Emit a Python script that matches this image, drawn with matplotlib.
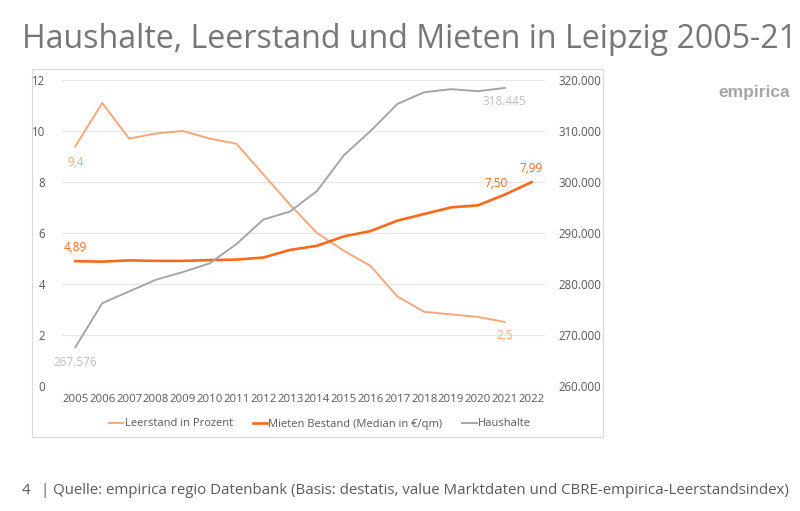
import matplotlib.pyplot as plt
from matplotlib.patches import Rectangle

years = list(range(2005, 2023))
leerstand = [9.4, 11.1, 9.7, 9.9, 10.0, 9.7, 9.5, 8.3, 7.1, 6.0, 5.3, 4.7, 3.5, 2.9, 2.8, 2.7, 2.5]
mieten = [4.89, 4.87, 4.92, 4.90, 4.90, 4.93, 4.95, 5.03, 5.33, 5.49, 5.86, 6.07, 6.48, 6.74, 7.00, 7.08, 7.50, 7.99]
haushalte = [267576, 276200, 278500, 280800, 282300, 284000, 287800, 292600, 294200, 298200,
             305200, 310000, 315300, 317600, 318200, 317800, 318445]

c_leer = '#f4a87a'
c_miet = '#fa6a1a'
c_haus = '#a5a5a5'
txt = '#595959'
font = ['Open Sans', 'DejaVu Sans']

plt.rcParams['font.family'] = font

fig = plt.figure(figsize=(8, 5.11), dpi=100)
W, H = 800, 511

# chart frame
fig.patches.append(Rectangle((32 / W, 1 - 437 / H), (603 - 32) / W, (437 - 69) / H,
                             transform=fig.transFigure, fill=False, ec='#d9d9d9', lw=0.8))

ax = fig.add_axes([62 / W, 1 - 385.7 / H, (545 - 62) / W, (385.7 - 80) / H])
ax2 = ax.twinx()

l1, = ax.plot(years[:len(leerstand)], leerstand, color=c_leer, lw=1.4, label='Leerstand in Prozent')
l2, = ax.plot(years, mieten, color=c_miet, lw=1.9, label='Mieten Bestand (Median in €/qm)')
l3, = ax2.plot(years[:len(haushalte)], haushalte, color=c_haus, lw=1.4, label='Haushalte')

ax.set_xlim(2004.5, 2022.5)
ax.set_ylim(0, 12)
ax2.set_ylim(260000, 320000)
ax.set_xticks(years)
ax.set_xticklabels([str(y) for y in years])
ax.set_yticks(range(0, 13, 2))
ax2.set_yticks(range(260000, 320001, 10000))
ax2.set_yticklabels([f'{v // 1000}.000' for v in range(260000, 320001, 10000)])
ax.grid(axis='y', color='#e6e6e6', lw=0.8)
ax.set_axisbelow(True)
for a in (ax, ax2):
    for s in a.spines.values():
        s.set_visible(False)
    a.tick_params(length=0, labelsize=8.3, colors=txt)
ax.tick_params(axis='x', labelsize=8.2, pad=6)
ax.tick_params(axis='y', pad=12)
ax2.tick_params(axis='y', pad=10)

# data labels
ax.annotate('9,4', (2005, leerstand[0]), xytext=(0, -12), textcoords='offset points',
            ha='center', va='center', color=c_leer, fontsize=8.5)
ax.annotate('2,5', (2021, leerstand[-1]), xytext=(0, -10), textcoords='offset points',
            ha='center', va='center', color=c_leer, fontsize=8.5)
ax.annotate('4,89', (2005, mieten[0]), xytext=(0, 10), textcoords='offset points',
            ha='center', va='center', color=c_miet, fontsize=8.5)
ax.annotate('7,50', (2021, mieten[-2]), xytext=(-6, 8), textcoords='offset points',
            ha='center', va='center', color=c_miet, fontsize=8.5)
ax.annotate('7,99', (2022, mieten[-1]), xytext=(0, 10), textcoords='offset points',
            ha='center', va='center', color=c_miet, fontsize=8.5)
ax2.annotate('267.576', (2005, haushalte[0]), xytext=(0, -11), textcoords='offset points',
             ha='center', va='center', color='#bfbfbf', fontsize=8.5)
ax2.annotate('318.445', (2021, haushalte[-1]), xytext=(0, -10), textcoords='offset points',
             ha='center', va='center', color='#bfbfbf', fontsize=8.5)

fig.legend(handles=[l1, l2, l3], loc='center', bbox_to_anchor=(320 / W, 1 - 424 / H),
           ncol=3, frameon=False, fontsize=8, handlelength=1.3, handletextpad=0.1,
           columnspacing=1.8, labelcolor=txt)

fig.text(22 / W, 1 - 40 / H, 'Haushalte, Leerstand und Mieten in Leipzig 2005-21',
         fontsize=23.1, color='#767676', va='center', ha='left')
fig.text(790 / W, 1 - 92 / H, 'empirica', fontsize=12.5, color='#a6a6a6', fontweight='bold',
         ha='right', va='center', family=['Liberation Sans', 'DejaVu Sans'])
fig.text(22 / W, 1 - 490 / H, '4', fontsize=10.8, color=txt, va='center')
fig.text(41 / W, 1 - 490 / H,
         '| Quelle: empirica regio Datenbank (Basis: destatis, value Marktdaten und CBRE-empirica-Leerstandsindex)',
         fontsize=10.8, color=txt, va='center')

fig.savefig('out.png', dpi=100)
